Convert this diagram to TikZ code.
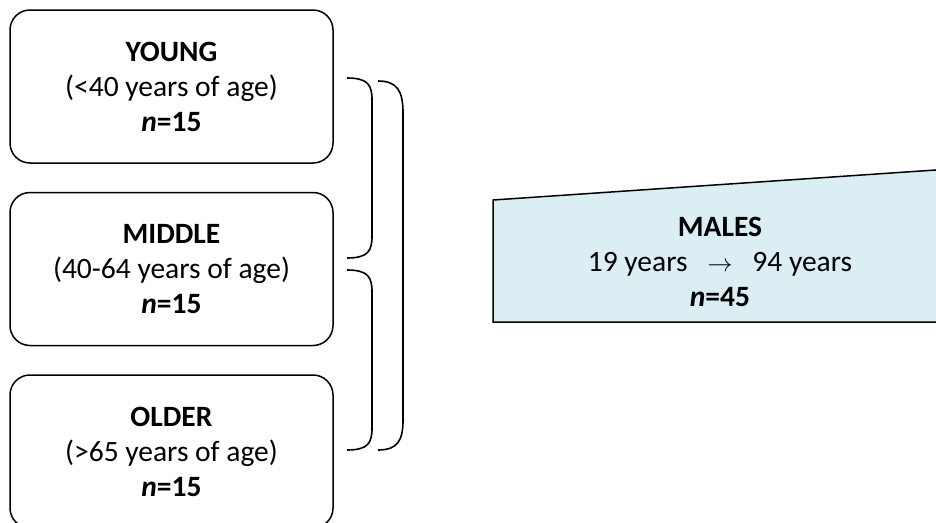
\documentclass[tikz,border=0pt]{standalone}
\usepackage{fontspec}
\setmainfont{Carlito}
\usetikzlibrary{positioning}
\definecolor{paleblue}{HTML}{DAEEF3}

\begin{document}
\begin{tikzpicture}[
	x=1pt, y=-1pt,
	agebox/.style = {
		draw, line width=1.5pt,
		rounded corners=20pt,
		minimum width=323pt,
		minimum height=153pt,
		align=center,
		font=\fontsize{29.5}{35}\selectfont,
	},
	bracket/.style = {line width=1.6pt},
	node distance=28pt
]
\useasboundingbox (0,0) rectangle (936,522);

% age group boxes
\node [agebox] (young) at (171.5,86.5) {\textbf{YOUNG}\\(<40 years of age)\\\textbf{\textit{n}=15}};
\node [agebox, below=of young] (middle) {\textbf{MIDDLE}\\(40-64 years of age)\\\textbf{\textit{n}=15}};
\node [agebox, below=of middle] (older) {\textbf{OLDER}\\(>65 years of age)\\\textbf{\textit{n}=15}};

% brackets
\draw [bracket] (347,78) .. controls (368,78) and (372,85) .. (372,100)
	-- (372,236) .. controls (372,251) and (368,258) .. (347,258);
\draw [bracket] (347,270) .. controls (368,270) and (372,277) .. (372,292)
	-- (372,428) .. controls (372,443) and (368,450) .. (347,450);
\draw [bracket] (378,81) .. controls (398,81) and (403,92) .. (403,113)
	-- (403,420) .. controls (403,440) and (398,450) .. (378,450);

% males wedge
\draw [line width=1.5pt, fill=paleblue] (493,200) -- (946,169.3) -- (946,322) -- (493,322) -- cycle;
\node [align=center, font=\fontsize{29.5}{35}\selectfont] (males) at (720,262)
	{\textbf{MALES}\\19 years\hspace{20pt}$\rightarrow$\hspace{20pt}94 years\\\textbf{\textit{n}=45}};

\end{tikzpicture}
\end{document}
